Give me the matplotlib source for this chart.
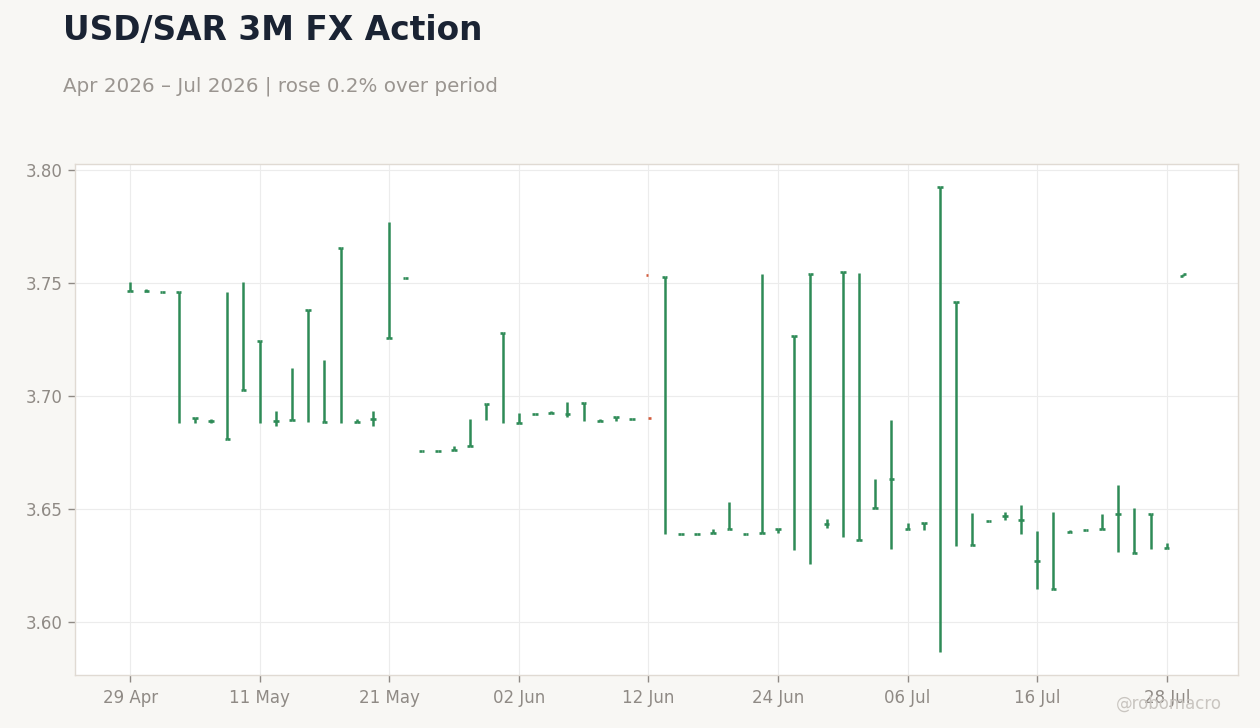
import numpy as np
import pandas as pd
import matplotlib
matplotlib.use("Agg")
import matplotlib.pyplot as plt

nan = np.nan
dates = pd.bdate_range("2026-04-29", periods=66)

open_ = [3.7465, 3.7466, 3.7462, 3.7462, 3.6904, 3.6891, 3.6808, 3.7027, 3.7245, 3.6891,
         3.6894, 3.7382, 3.6885, 3.7656, 3.6885, 3.6900, 3.7258, 3.7524, 3.6758, 3.6758,
         3.6763, 3.6779, 3.6966, 3.7280, 3.6881, 3.6922, 3.6926, 3.6922, 3.6970, 3.6891,
         3.6908, 3.6900, 3.7537, 3.7528, 3.6389, 3.6389, 3.6394, 3.6413, 3.6389, 3.6394,
         3.6413, 3.7265, 3.7541, 3.6435, 3.7547, 3.6363, 3.6506, 3.6633, 3.6412, 3.6440,
         3.7923, 3.7417, 3.6342, 3.6448, 3.6470, 3.6453, 3.6270, 3.6146, 3.6400, 3.6408,
         3.6413, 3.6479, 3.6305, 3.6479, 3.6329, 3.7532]
high = [3.7504, 3.7472, 3.7462, 3.7462, 3.6904, 3.6899, 3.7460, 3.7504, 3.7245, 3.6932,
        3.7124, 3.7382, 3.7159, 3.7656, 3.6897, 3.6932, 3.7770, 3.7524, 3.6758, 3.6758,
        3.6779, 3.6898, 3.6966, 3.7280, 3.6925, 3.6922, 3.6932, 3.6973, 3.6970, 3.6897,
        3.6908, 3.6900, nan, 3.7528, 3.6389, 3.6389, 3.6412, 3.6531, 3.6389, 3.7540,
        3.6413, 3.7265, 3.7541, 3.6456, 3.7547, 3.7544, 3.6633, 3.6894, 3.6438, 3.6440,
        3.7923, 3.7417, 3.6482, 3.6448, 3.6487, 3.6518, 3.6403, 3.6487, 3.6405, 3.6408,
        3.6478, 3.6606, 3.6504, 3.6479, 3.6348, 3.7540]
low = [3.7465, 3.7460, 3.7462, 3.6882, 3.6882, 3.6881, 3.6808, 3.7027, 3.6882, 3.6867,
       3.6894, 3.6885, 3.6885, 3.6882, 3.6885, 3.6867, 3.7258, 3.7524, 3.6758, 3.6758,
       3.6763, 3.6779, 3.6894, 3.6882, 3.6881, 3.6922, 3.6926, 3.6908, 3.6891, 3.6891,
       3.6891, 3.6900, nan, 3.6389, 3.6389, 3.6389, 3.6394, 3.6413, 3.6389, 3.6394,
       3.6392, 3.6320, 3.6258, 3.6417, 3.6378, 3.6363, 3.6506, 3.6324, 3.6412, 3.6408,
       3.5869, 3.6338, 3.6342, 3.6448, 3.6453, 3.6389, 3.6146, 3.6146, 3.6400, 3.6408,
       3.6413, 3.6311, 3.6305, 3.6324, 3.6329, 3.7532]
close = [3.7465, 3.7467, 3.7462, 3.7462, 3.6904, 3.6891, 3.6808, 3.7027, 3.7245, 3.6891,
         3.6894, 3.7382, 3.6885, 3.7656, 3.6885, 3.6900, 3.7258, 3.7524, 3.6758, 3.6758,
         3.6763, 3.6779, 3.6966, 3.7280, 3.6881, 3.6922, 3.6926, 3.6922, 3.6970, 3.6891,
         3.6908, 3.6900, 3.6904, 3.7528, 3.6389, 3.6389, 3.6394, 3.6413, 3.6389, 3.6394,
         3.6413, 3.7265, 3.7541, 3.6435, 3.7547, 3.6363, 3.6506, 3.6633, 3.6412, 3.6440,
         3.7923, 3.7417, 3.6342, 3.6448, 3.6470, 3.6453, 3.6270, 3.6146, 3.6400, 3.6408,
         3.6413, 3.6479, 3.6305, 3.6479, 3.6329, 3.7540]

yticks = [3.60, 3.65, 3.70, 3.75, 3.80]
tick_every = 8

UP = "#2e8b57"
DOWN = "#d35b3c"
BG = "#f8f7f4"
GRAY = "#8f8a85"

fig = plt.figure(figsize=(12.6, 7.28), dpi=100, facecolor=BG)
ax = fig.add_axes([75 / 1260, 1 - 675 / 728, (1238 - 75) / 1260, (675 - 164) / 728])
ax.set_facecolor("white")

x = np.arange(len(dates))
o = np.array(open_); h = np.array(high); l = np.array(low); c = np.array(close)
colors = [UP if cc >= oo else DOWN for oo, cc in zip(o, c)]
w = 0.17
ax.vlines(x, l, h, colors=colors, linewidth=1.8, zorder=3)
ax.hlines(o, x - w, x, colors=colors, linewidth=1.9, zorder=3)
ax.hlines(c, x, x + w, colors=colors, linewidth=1.9, zorder=3)

ax.set_xlim(-3.4, 68.4)
ax.set_ylim(3.5765, 3.8027)
ax.set_yticks(yticks)
ax.set_yticklabels([f"{v:.2f}" for v in yticks])
tpos = x[::tick_every]
ax.set_xticks(tpos)
ax.set_xticklabels([dates[i].strftime("%d %b") for i in tpos])

ax.grid(True, color="#ececec", linewidth=0.8)
ax.set_axisbelow(True)
for s in ax.spines.values():
    s.set_color("#e0dad3")
    s.set_linewidth(1.0)
ax.tick_params(axis="both", colors=GRAY, labelcolor=GRAY, labelsize=12, length=5, width=1)
ax.tick_params(axis="x", pad=5)
ax.tick_params(axis="y", pad=4)

fig.text(63 / 1260, 1 - 40 / 728, "USD/SAR 3M FX Action", fontsize=23.7, fontweight="bold",
         color="#1a2333", va="baseline", ha="left")
fig.text(63 / 1260, 1 - 92 / 728, "Apr 2026 \u2013 Jul 2026 | rose 0.2% over period", fontsize=14.3,
         color="#9a9590", va="baseline", ha="left")
fig.text(1222 / 1260, 1 - 709 / 728, "@robomacro", fontsize=12, color="#c9c5c0",
         va="baseline", ha="right")

fig.savefig("out.png", dpi=100, facecolor=BG)
